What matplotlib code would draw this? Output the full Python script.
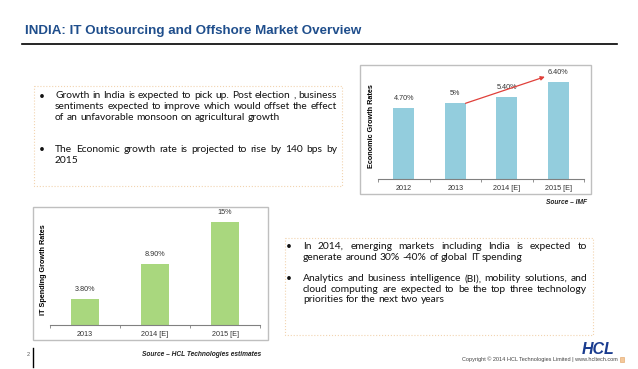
import matplotlib

matplotlib.use("Agg")

import matplotlib.pyplot as plt  # noqa: E402
from matplotlib.patches import Rectangle  # noqa: E402

# data
gdp_years = ["2012", "2013", "2014 [E]", "2015 [E]"]
gdp_rates = [4.7, 5.0, 5.4, 6.4]
gdp_labels = ["4.70%", "5%", "5.40%", "6.40%"]

it_years = ["2013", "2014 [E]", "2015 [E]"]
it_rates = [3.8, 8.9, 15.0]
it_labels = ["3.80%", "8.90%", "15%"]

box1_bullets = [
    ["Growth in India is expected to pick up. Post election , business",
     "sentiments expected to improve which would offset the effect",
     "of an unfavorable monsoon on agricultural growth"],
    ["The Economic growth rate is projected to rise by 140 bps by",
     "2015"],
]
box2_bullets = [
    ["In 2014, emerging markets including India is expected to",
     "generate around 30% -40% of global IT spending"],
    ["Analytics and business intelligence (BI), mobility solutions, and",
     "cloud computing are expected to be the top three technology",
     "priorities for the next two years"],
]

BLUE_BAR = "#93CDDD"
GREEN_BAR = "#A9D77E"
TITLE_C = "#1F4E8C"
BODY_FONT = "Lato"
CHART_FONT = "Liberation Sans"

fig = plt.figure(figsize=(6.38, 3.69), dpi=100)
bg = fig.add_axes([0, 0, 1, 1])
bg.set_xlim(0, 638)
bg.set_ylim(369, 0)
bg.axis("off")

renderer = fig.canvas.get_renderer()


def width_of(s, **kw):
    t = bg.text(0, 0, s, **kw)
    w = t.get_window_extent(renderer).width
    t.remove()
    return w


# title + rule
title_kw = dict(fontweight="bold", color=TITLE_C, family=CHART_FONT,
                va="center", ha="left")
title = "INDIA: IT Outsourcing and Offshore Market Overview"
title_size = 8.2 * 340 / width_of(title, fontsize=8.2, **title_kw)
bg.text(25, 31, title, fontsize=title_size, **title_kw)
bg.plot([22, 617], [44, 44], color="black", lw=1.2)

# frames
bg.add_patch(Rectangle((360, 65), 231, 129, fill=False, ec="#BFBFBF", lw=1))
bg.add_patch(Rectangle((33, 207), 235, 133, fill=False, ec="#BFBFBF", lw=1))
bg.add_patch(Rectangle((34, 86), 308, 100, fill=False, ec="#F2D4B0", lw=0.8, ls=":"))
bg.add_patch(Rectangle((285, 238), 308, 97, fill=False, ec="#F2D4B0", lw=0.8, ls=":"))

body_kw = dict(family=BODY_FONT, color="#111111", va="center")
body_size = 7.0 * 279 / width_of(box1_bullets[0][0], fontsize=7.0, **body_kw)
body_kw["fontsize"] = body_size


def draw_bullets(bullets, xb, x0, x1, y0, step, gap):
    space = width_of("a a", **body_kw) - width_of("aa", **body_kw)
    y = y0
    for lines in bullets:
        bg.text(xb, y, "\u2022", ha="center", **body_kw)
        for i, line in enumerate(lines):
            words = line.split()
            widths = [width_of(w, **body_kw) for w in words]
            last = i == len(lines) - 1
            if last or len(words) < 2:
                g = space
            else:
                g = (x1 - x0 - sum(widths)) / (len(words) - 1)
            x = x0
            for w, wd in zip(words, widths):
                bg.text(x, y, w, ha="left", **body_kw)
                x += wd + g
            y += step
        y += gap


draw_bullets(box1_bullets, 42, 55, 337, 96, 10.7, 21.3)
draw_bullets(box2_bullets, 289, 303, 587, 246.5, 10.7, 10.7)


def bar_chart(rect, cats, vals, labels, color, ymax, ylabel):
    ax = fig.add_axes(rect)
    x = range(len(cats))
    ax.bar(x, vals, width=0.4, color=color)
    for xi, v, lab in zip(x, vals, labels):
        ax.annotate(lab, (xi, v), xytext=(0, 4.5), textcoords="offset points",
                    ha="center", va="bottom", fontsize=5.2, family=CHART_FONT,
                    color="#333333")
    ax.set_xlim(-0.5, len(cats) - 0.5)
    ax.set_ylim(0, ymax)
    ax.set_xticks(list(x))
    ax.set_xticklabels(cats, fontsize=5.2, family=CHART_FONT, color="#333333")
    ax.set_xticks([i - 0.5 for i in range(len(cats) + 1)], minor=True)
    ax.tick_params(axis="x", which="major", length=0, pad=4)
    ax.tick_params(axis="x", which="minor", length=2.5, color="#808080", width=0.6)
    ax.set_yticks([])
    for s in ["top", "right", "left"]:
        ax.spines[s].set_visible(False)
    ax.spines["bottom"].set_color("#808080")
    ax.spines["bottom"].set_linewidth(0.8)
    ax.patch.set_alpha(0)
    ax.set_ylabel(ylabel, fontsize=5.2, fontweight="bold", family=CHART_FONT,
                  labelpad=2)
    return ax


ax1 = bar_chart([378 / 638, (369 - 179) / 369, 206 / 638, 106 / 369],
                gdp_years, gdp_rates, gdp_labels, BLUE_BAR, 7,
                "Economic Growth Rates")
ax1.annotate("", xy=(3 - 0.26, gdp_rates[3] + 0.35),
             xytext=(1 + 0.2, gdp_rates[1]),
             arrowprops=dict(arrowstyle="-|>", color="#E0403A", lw=0.9,
                             mutation_scale=6, shrinkA=0, shrinkB=0))

ax2 = bar_chart([50 / 638, (369 - 325) / 369, 210 / 638, 110 / 369],
                it_years, it_rates, it_labels, GREEN_BAR, 16,
                "IT Spending Growth Rates")

# sources
src_kw = dict(fontsize=4.8, fontweight="bold", style="italic",
              family=CHART_FONT, ha="right", va="center", color="#222222")
bg.text(587, 202, "Source \u2013 IMF", **src_kw)
bg.text(261, 354, "Source \u2013 HCL Technologies estimates", **src_kw)

# footer
bg.text(28, 355, "2", fontsize=4, family=CHART_FONT, color="#555555",
        ha="center", va="center")
bg.plot([33, 33], [348, 367], color="black", lw=1)
bg.text(614, 349, "HCL", fontsize=11.5, fontweight="heavy", style="italic",
        family=CHART_FONT, color="#1A3C8F", ha="right", va="center")
bg.text(618, 359.5, "Copyright \u00a9 2014 HCL Technologies Limited | www.hcltech.com",
        fontsize=4.0, family=CHART_FONT, color="#444444", ha="right", va="center")
bg.add_patch(Rectangle((619.5, 357), 4.5, 5, fc="#F4C89A", ec="#E0A060", lw=0.4))

fig.savefig("out.png", dpi=100)
